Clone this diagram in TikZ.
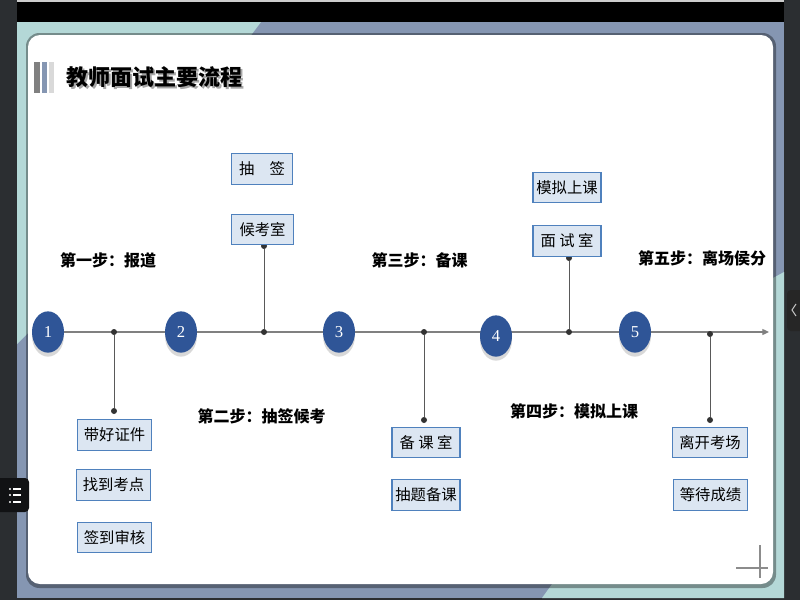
\documentclass[tikz,border=0pt]{standalone}
\usepackage{fontspec}
\setmainfont{Noto Sans CJK SC}
\newfontfamily\numfont{Liberation Serif}
\usetikzlibrary{shapes.geometric,shadows,arrows.meta}

\definecolor{cBlue}{HTML}{2F5597}
\definecolor{bFill}{HTML}{DCE6F2}
\definecolor{bLine}{HTML}{4F81BD}
\definecolor{sTeal}{HTML}{B4D8D7}
\definecolor{sSlate}{HTML}{8596B2}
\definecolor{uiDark}{HTML}{2B2E31}

\tikzstyle{nS}=[ellipse,minimum width=24pt,minimum height=31pt,inner sep=0pt,fill=cBlue,text=white,font=\numfont\fontsize{12.5}{12.5}\selectfont,drop shadow={shadow xshift=0pt,shadow yshift=-3pt,opacity=0.3}]
\tikzstyle{bS}=[draw=bLine,fill=bFill,line width=0.9pt,minimum width=46pt,minimum height=23pt,inner xsep=5pt,inner ysep=0pt,font=\fontsize{11.5}{12}\selectfont]
\tikzstyle{bN}=[bS,inner xsep=1pt,minimum width=51pt]
\tikzstyle{sS}=[inner sep=0pt,font=\bfseries\fontsize{12}{12}\selectfont]
\tikzstyle{dS}=[circle,fill=black!80,inner sep=0pt,minimum size=4.5pt]
\tikzstyle{eS}=[draw=black!65,line width=0.6pt]
\tikzstyle{tL}=[draw=black!50,line width=0.9pt,-{Triangle[length=5pt,width=4.5pt]}]

\begin{document}
\begin{tikzpicture}[x=0.75pt,y=-0.75pt]
    \useasboundingbox (0,0) rectangle (800,600);
    % screen and slide
    \fill[uiDark] (0,0) rectangle (800,600);
    \fill[black] (17,1.5) rectangle (784,22);
    \fill[black!20] (17,0) rectangle (784,1.5);
    \fill[sSlate] (17,22) rectangle (784,598);
    \fill[sTeal] (17,22) -- (261,22) -- (28,333) -- (17,344) -- cycle;
    \fill[sTeal] (784,272) -- (784,598) -- (542,598) -- (773,278) -- cycle;
    \fill[black,opacity=0.35,rounded corners=10pt] (26,33) rectangle (776,588);
    \fill[white,rounded corners=9pt] (28,35) rectangle (773,584);
    % side tabs
    \fill[black!85,rounded corners=3pt] (787,290) rectangle (806,331);
    \draw[white!75!black,line width=0.8pt] (796,304) -- (792,310) -- (796,316);
    \fill[black!60!uiDark,rounded corners=3pt] (-6,478) rectangle (29,512);
    \foreach \yy in {489,495,502}{
        \fill[white] (10,\yy) circle (0.9pt);
        \draw[white,line width=1pt] (13,\yy) -- (21,\yy);
    }
    \draw[black!45,line width=0.8pt] (760,545) -- (760,578) (736,568) -- (768,568);

    % title
    \fill[black!50] (34,62) rectangle (40,93);
    \fill[sSlate] (42,62) rectangle (47,93);
    \fill[black!15] (49,62) rectangle (54,93);
    \draw (156,79) node[text=black!35,font=\bfseries\fontsize{16.5}{17}\selectfont] (ttS) {教师面试主要流程};
    \draw (154.5,77.5) node[font=\bfseries\fontsize{16.5}{17}\selectfont] (tt) {教师面试主要流程};

    % time line
    \coordinate (t0) at (48,332);
    \coordinate (t1) at (769,332);
    \draw[tL] (t0) -- (t1);

    \draw (114,332) node[dS] (d1) {};
    \draw (264,332) node[dS] (d2) {};
    \draw (424,332) node[dS] (d3) {};
    \draw (569,332) node[dS] (d4) {};
    \draw (710,334) node[dS] (d5) {};
    \draw (114,411) node[dS] (e1) {};
    \draw (264,246) node[dS] (e2) {};
    \draw (424,420) node[dS] (e3) {};
    \draw (569,258) node[dS] (e4) {};
    \draw (710,420) node[dS] (e5) {};

    \draw (48,332) node[nS] (n1) {1};
    \draw (181,332) node[nS] (n2) {2};
    \draw (339,332) node[nS] (n3) {3};
    \draw (496,336) node[nS] (n4) {4};
    \draw (635,332) node[nS] (n5) {5};

    \draw (108,260) node[sS] (s1) {第一步：报道};
    \draw (261.5,416) node[sS] (s2) {第二步：抽签候考};
    \draw (419.5,260) node[sS] (s3) {第三步：备课};
    \draw (574,411) node[sS] (s4) {第四步：模拟上课};
    \draw (702,258) node[sS] (s5) {第五步：离场侯分};

    \draw (114.5,435) node[bS] (b11) {带好证件};
    \draw (113.5,485) node[bS] (b12) {找到考点};
    \draw (114.5,537.5) node[bS] (b13) {签到审核};
    \draw (262,169) node[bS] (b21) {抽　签};
    \draw (262.5,229.5) node[bS] (b22) {候考室};
    \draw (426,442.5) node[bN] (b31) {备 课 室};
    \draw (426,495) node[bN] (b32) {抽题备课};
    \draw (567,187.5) node[bN] (b41) {模拟上课};
    \draw (567,241) node[bN] (b42) {面 试 室};
    \draw (710,442.5) node[bS] (b51) {离开考场};
    \draw (710.5,495) node[bS] (b52) {等待成绩};

    \path
        (d1) edge[eS] (e1)
        (d2) edge[eS] (e2)
        (d3) edge[eS] (e3)
        (d4) edge[eS] (e4)
        (d5) edge[eS] (e5)
    ;
\end{tikzpicture}
\end{document}
